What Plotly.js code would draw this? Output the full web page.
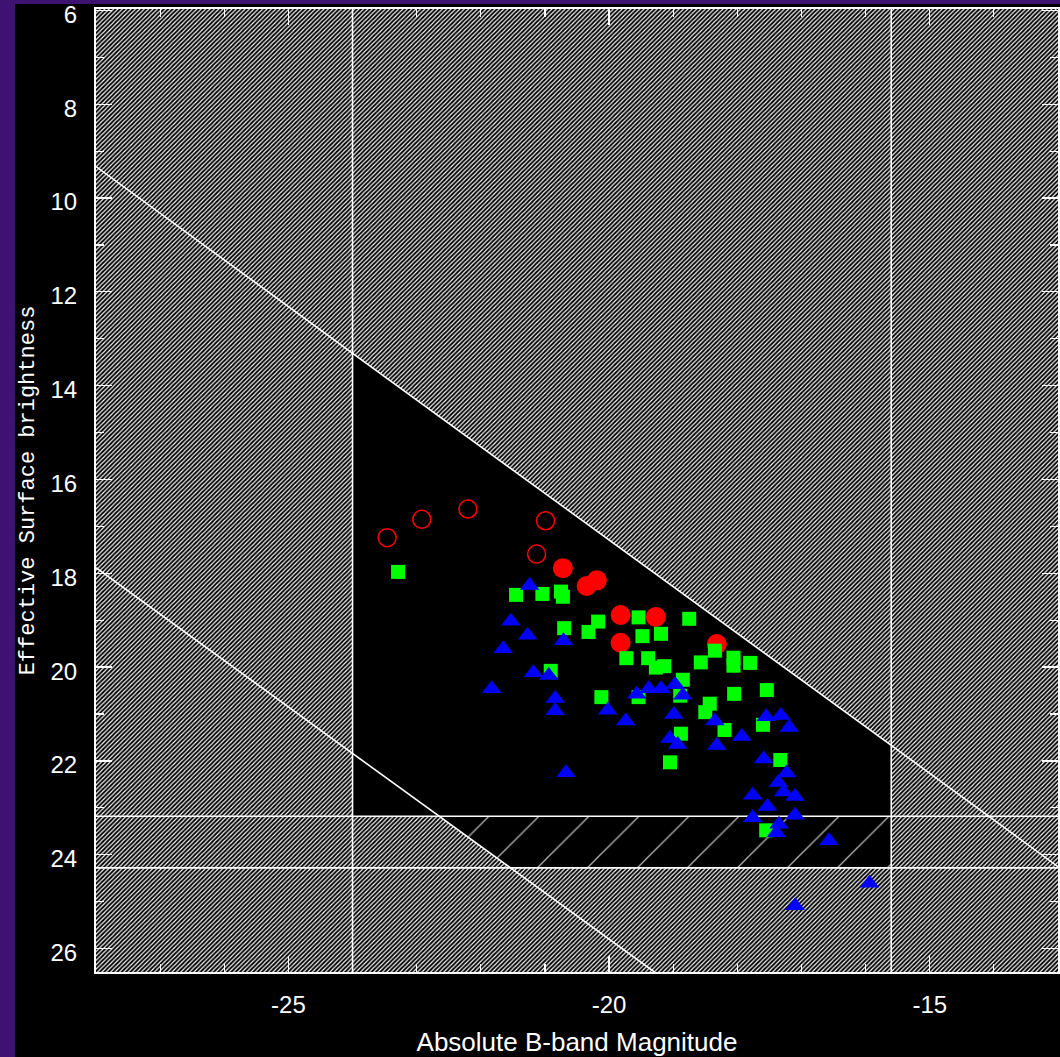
<!DOCTYPE html>
<html><head><meta charset="utf-8">
<script src="https://cdn.plot.ly/plotly-3.0.1.min.js"></script>
<style>html,body{margin:0;padding:0;background:#000;}</style>
</head><body><div id="chart" style="width:1060px;height:1057px;"></div>
<script>
// ---- data ----
const openRedX = [-23.46,-22.92,-22.20,-20.99,-21.13];
const openRedY = [17.24,16.85,16.63,16.88,17.59];
const redX = [-20.72,-20.35,-20.19,-19.82,-19.27,-19.82,-18.32];
const redY = [17.89,18.27,18.15,18.89,18.93,19.48,19.51];
const greenX = [-23.29,-21.45,-21.04,-20.75,-20.72,-20.70,-20.32,-20.17,-19.54,-19.48,-19.19,-18.75,-19.73,-19.39,-19.27,-19.14,-20.91,-20.12,-19.54,-18.35,-18.57,-18.06,-18.06,-17.80,-18.85,-18.89,-18.05,-17.54,-18.43,-18.50,-18.20,-17.60,-18.88,-19.05,-17.33,-17.55];
const greenY = [17.97,18.46,18.44,18.39,18.50,19.17,19.25,19.03,18.94,19.34,19.29,18.97,19.81,19.81,20.01,19.98,20.08,20.64,20.64,19.65,19.90,19.80,19.97,19.91,20.27,20.61,20.57,20.49,20.78,20.96,21.34,21.23,21.42,22.03,21.98,23.48];
const blueX = [-21.24,-21.53,-21.27,-21.65,-20.71,-21.18,-20.94,-21.83,-20.84,-20.84,-20.02,-19.74,-19.57,-19.38,-19.19,-18.97,-18.85,-18.99,-19.05,-18.93,-20.67,-18.35,-17.93,-18.32,-17.55,-17.32,-17.19,-17.59,-17.23,-17.36,-17.28,-17.10,-17.76,-17.53,-17.76,-17.10,-17.35,-17.39,-16.57,-15.94,-17.10];
const blueY = [18.26,19.02,19.32,19.61,19.44,20.12,20.18,20.46,20.67,20.93,20.92,21.15,20.58,20.46,20.46,20.37,20.60,21.01,21.52,21.65,22.25,21.15,21.48,21.67,21.06,21.03,21.29,21.96,22.26,22.46,22.66,22.76,22.73,22.97,23.21,23.16,23.35,23.53,23.70,24.61,25.09];

// ---- tick labels ----
const xTickVals = [-25, -20, -15];
const xTickText = ['-25', '-20', '-15'];
const yTickVals = [6, 8, 10, 12, 14, 16, 18, 20, 22, 24, 26];
const yTickText = ['6', '8', '10', '12', '14', '16', '18', '20', '22', '24', '26'];

// ---- selection limits (data units) ----
const magLimits = [-24, -15.6];
const sbLimits = [23.18, 24.28];
const upperLimit = {x0: -28, y0: 9.33, slope: 0.995};
const lowerLimit = {x0: -28, y0: 17.88, slope: 0.99};
const xRange = [-28, -13];
const yRange = [26.5, 5.97];

const yU = x => upperLimit.y0 + upperLimit.slope * (x - upperLimit.x0);
const yL = x => lowerLimit.y0 + lowerLimit.slope * (x - lowerLimit.x0);
const xL = y => lowerLimit.x0 + (y - lowerLimit.y0) / lowerLimit.slope;

const xa = magLimits[0], xb = magLimits[1], s1 = sbLimits[0], s2 = sbLimits[1];
const xmin = xRange[0], xmax = xRange[1], ymin = yRange[1], ymax = yRange[0];

const traces = [];
// dense hatching over whole plot
traces.push({
  x: [xmin-1, xmax+1, xmax+1, xmin-1, xmin-1],
  y: [ymin-1, ymin-1, ymax+1, ymax+1, ymin-1],
  mode: 'lines', fill: 'toself', line: {width: 0}, hoverinfo: 'skip',
  fillpattern: {shape: '/', size: 3.1, solidity: 0.38, fgcolor: '#ffffff', bgcolor: '#000000'}
});
// black accepted region + band
traces.push({
  x: [xa, xb, xb, xL(s2), xL(s1), xa, xa],
  y: [yU(xa), yU(xb), s2, s2, s1, s1, yU(xa)],
  mode: 'lines', fill: 'toself', fillcolor: '#000000', line: {width: 0}, hoverinfo: 'skip'
});
// sparse hatching in band
traces.push({
  x: [xL(s1), xb, xb, xL(s2), xL(s1)],
  y: [s1, s1, s2, s2, s1],
  mode: 'lines', fill: 'toself', line: {width: 0}, hoverinfo: 'skip',
  fillpattern: {shape: '/', size: 35.36, solidity: 0.035, fgcolor: '#bbbbbb', bgcolor: '#000000'}
});
// boundary lines
const lw = {color: '#ffffff', width: 1.6};
function addLine(xs, ys) {
  traces.push({x: xs, y: ys, mode: 'lines', line: lw, hoverinfo: 'skip'});
}
addLine([xa, xa], [ymin-1, ymax+1]);
addLine([xb, xb], [ymin-1, ymax+1]);
addLine([xmin-1, xmax+1], [s1, s1]);
addLine([xmin-1, xmax+1], [s2, s2]);
addLine([xmin, xmax], [yU(xmin), yU(xmax)]);
addLine([xmin, xL(ymax)], [yL(xmin), ymax]);

// data markers
traces.push({x: openRedX, y: openRedY, mode: 'markers',
  marker: {symbol: 'circle-open', size: 18, color: '#ff0000', line: {width: 1.5, color: '#ff0000'}}});
traces.push({x: redX, y: redY, mode: 'markers',
  marker: {symbol: 'circle', size: 20, color: '#ff0000', line: {width: 0}}});
traces.push({x: greenX, y: greenY, mode: 'markers',
  marker: {symbol: 'square', size: 14, color: '#00ff00', line: {width: 0}}});
traces.push({x: blueX, y: blueY, mode: 'markers',
  marker: {symbol: 'triangle-up', size: 17, color: '#0000ff', line: {width: 0}}});

const tickFont = {family: 'Liberation Sans, Arial, sans-serif', size: 24, color: '#ffffff'};
const layout = {
  width: 1060, height: 1057,
  margin: {l: 96, r: 2, t: 9, b: 85, pad: 0},
  paper_bgcolor: '#3e1270',
  plot_bgcolor: '#000000',
  showlegend: false,
  xaxis: {
    range: xRange, tickmode: 'array', tickvals: xTickVals, ticktext: xTickText,
    ticks: 'inside', ticklen: 16, tickwidth: 1.2, tickcolor: '#ffffff',
    minor: {dtick: 1, tick0: -25, ticks: 'inside', ticklen: 8, tickwidth: 1.2, tickcolor: '#ffffff'},
    showline: true, linecolor: '#ffffff', linewidth: 2, mirror: 'ticks',
    showgrid: false, zeroline: false,
    tickfont: tickFont, ticklabelstandoff: 10,
    title: {text: 'Absolute B-band Magnitude', standoff: 16,
      font: {family: 'Liberation Sans, Arial, sans-serif', size: 26, color: '#ffffff'}}
  },
  yaxis: {
    range: yRange, tickmode: 'array', tickvals: yTickVals, ticktext: yTickText,
    ticks: 'inside', ticklen: 16, tickwidth: 1.2, tickcolor: '#ffffff',
    minor: {dtick: 1, tick0: 6, ticks: 'inside', ticklen: 8, tickwidth: 1.2, tickcolor: '#ffffff'},
    showline: true, linecolor: '#ffffff', linewidth: 2, mirror: 'ticks',
    showgrid: false, zeroline: false,
    tickfont: tickFont, ticklabelstandoff: 12,
    ticklabeloverflow: 'allow', ticklabelshift: -4,
    title: {text: 'Effective Surface brightness', standoff: 10,
      font: {family: 'Liberation Mono, Courier New, monospace', size: 22, color: '#ffffff'}}
  },
  shapes: [{
    type: 'rect', xref: 'paper', yref: 'paper', layer: 'below',
    x0: (15 - 96) / 962, x1: 1.2, y0: -0.2, y1: 1 + 5 / 963,
    fillcolor: '#000000', line: {width: 0}
  }]
};

Plotly.newPlot('chart', traces, layout, {displayModeBar: false, staticPlot: true});
</script>
</body></html>
